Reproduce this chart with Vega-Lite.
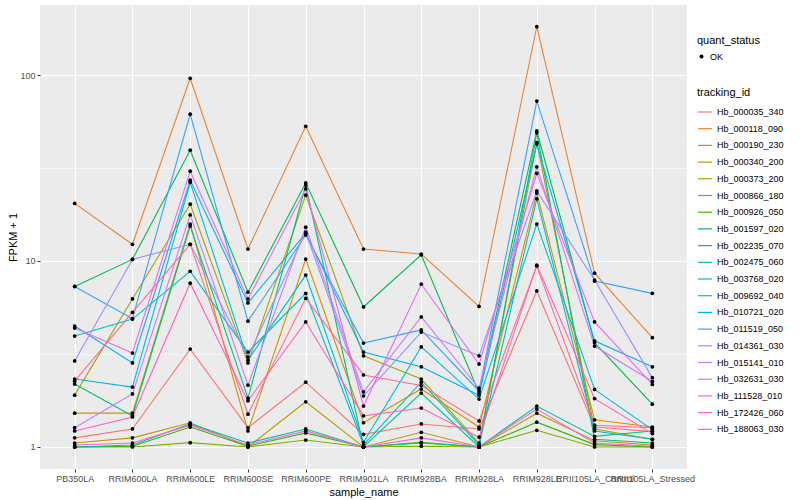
{
  "$schema": "https://vega.github.io/schema/vega-lite/v6.json",
  "width": 647,
  "height": 464,
  "autosize": "none",
  "padding": {"left": 40, "top": 5, "right": 113, "bottom": 31},
  "config": {
    "font": "Liberation Sans",
    "view": {"fill": "#EBEBEB", "stroke": null}
  },
  "datasets": {
    "expr": [
      {"sample_name":"PB350LA","tracking_id":"Hb_000035_340","fpkm":1.12,"quant_status":"OK"},
      {"sample_name":"RRIM600LA","tracking_id":"Hb_000035_340","fpkm":1.25,"quant_status":"OK"},
      {"sample_name":"RRIM600LE","tracking_id":"Hb_000035_340","fpkm":3.36,"quant_status":"OK"},
      {"sample_name":"RRIM600SE","tracking_id":"Hb_000035_340","fpkm":1.27,"quant_status":"OK"},
      {"sample_name":"RRIM600PE","tracking_id":"Hb_000035_340","fpkm":2.23,"quant_status":"OK"},
      {"sample_name":"RRIM901LA","tracking_id":"Hb_000035_340","fpkm":1.17,"quant_status":"OK"},
      {"sample_name":"RRIM928BA","tracking_id":"Hb_000035_340","fpkm":1.33,"quant_status":"OK"},
      {"sample_name":"RRIM928LA","tracking_id":"Hb_000035_340","fpkm":1.25,"quant_status":"OK"},
      {"sample_name":"RRIM928LE","tracking_id":"Hb_000035_340","fpkm":6.9,"quant_status":"OK"},
      {"sample_name":"RRII105LA_Control","tracking_id":"Hb_000035_340","fpkm":1.28,"quant_status":"OK"},
      {"sample_name":"RRII105LA_Stressed","tracking_id":"Hb_000035_340","fpkm":1.21,"quant_status":"OK"},

      {"sample_name":"PB350LA","tracking_id":"Hb_000118_090","fpkm":20.4,"quant_status":"OK"},
      {"sample_name":"RRIM600LA","tracking_id":"Hb_000118_090","fpkm":12.3,"quant_status":"OK"},
      {"sample_name":"RRIM600LE","tracking_id":"Hb_000118_090","fpkm":96,"quant_status":"OK"},
      {"sample_name":"RRIM600SE","tracking_id":"Hb_000118_090","fpkm":11.6,"quant_status":"OK"},
      {"sample_name":"RRIM600PE","tracking_id":"Hb_000118_090","fpkm":53,"quant_status":"OK"},
      {"sample_name":"RRIM901LA","tracking_id":"Hb_000118_090","fpkm":11.6,"quant_status":"OK"},
      {"sample_name":"RRIM928BA","tracking_id":"Hb_000118_090","fpkm":10.9,"quant_status":"OK"},
      {"sample_name":"RRIM928LA","tracking_id":"Hb_000118_090","fpkm":5.7,"quant_status":"OK"},
      {"sample_name":"RRIM928LE","tracking_id":"Hb_000118_090","fpkm":182,"quant_status":"OK"},
      {"sample_name":"RRII105LA_Control","tracking_id":"Hb_000118_090","fpkm":8.6,"quant_status":"OK"},
      {"sample_name":"RRII105LA_Stressed","tracking_id":"Hb_000118_090","fpkm":3.87,"quant_status":"OK"},

      {"sample_name":"PB350LA","tracking_id":"Hb_000190_230","fpkm":1.52,"quant_status":"OK"},
      {"sample_name":"RRIM600LA","tracking_id":"Hb_000190_230","fpkm":1.52,"quant_status":"OK"},
      {"sample_name":"RRIM600LE","tracking_id":"Hb_000190_230","fpkm":15.8,"quant_status":"OK"},
      {"sample_name":"RRIM600SE","tracking_id":"Hb_000190_230","fpkm":1.22,"quant_status":"OK"},
      {"sample_name":"RRIM600PE","tracking_id":"Hb_000190_230","fpkm":10.25,"quant_status":"OK"},
      {"sample_name":"RRIM901LA","tracking_id":"Hb_000190_230","fpkm":1.35,"quant_status":"OK"},
      {"sample_name":"RRIM928BA","tracking_id":"Hb_000190_230","fpkm":2.05,"quant_status":"OK"},
      {"sample_name":"RRIM928LA","tracking_id":"Hb_000190_230","fpkm":1.28,"quant_status":"OK"},
      {"sample_name":"RRIM928LE","tracking_id":"Hb_000190_230","fpkm":23.2,"quant_status":"OK"},
      {"sample_name":"RRII105LA_Control","tracking_id":"Hb_000190_230","fpkm":1.4,"quant_status":"OK"},
      {"sample_name":"RRII105LA_Stressed","tracking_id":"Hb_000190_230","fpkm":1.28,"quant_status":"OK"},

      {"sample_name":"PB350LA","tracking_id":"Hb_000340_200","fpkm":1.05,"quant_status":"OK"},
      {"sample_name":"RRIM600LA","tracking_id":"Hb_000340_200","fpkm":1.12,"quant_status":"OK"},
      {"sample_name":"RRIM600LE","tracking_id":"Hb_000340_200","fpkm":1.35,"quant_status":"OK"},
      {"sample_name":"RRIM600SE","tracking_id":"Hb_000340_200","fpkm":1.0,"quant_status":"OK"},
      {"sample_name":"RRIM600PE","tracking_id":"Hb_000340_200","fpkm":1.75,"quant_status":"OK"},
      {"sample_name":"RRIM901LA","tracking_id":"Hb_000340_200","fpkm":1.0,"quant_status":"OK"},
      {"sample_name":"RRIM928BA","tracking_id":"Hb_000340_200","fpkm":1.2,"quant_status":"OK"},
      {"sample_name":"RRIM928LA","tracking_id":"Hb_000340_200","fpkm":1.0,"quant_status":"OK"},
      {"sample_name":"RRIM928LE","tracking_id":"Hb_000340_200","fpkm":1.52,"quant_status":"OK"},
      {"sample_name":"RRII105LA_Control","tracking_id":"Hb_000340_200","fpkm":1.08,"quant_status":"OK"},
      {"sample_name":"RRII105LA_Stressed","tracking_id":"Hb_000340_200","fpkm":1.025,"quant_status":"OK"},

      {"sample_name":"PB350LA","tracking_id":"Hb_000373_200","fpkm":1.9,"quant_status":"OK"},
      {"sample_name":"RRIM600LA","tracking_id":"Hb_000373_200","fpkm":6.25,"quant_status":"OK"},
      {"sample_name":"RRIM600LE","tracking_id":"Hb_000373_200","fpkm":20.2,"quant_status":"OK"},
      {"sample_name":"RRIM600SE","tracking_id":"Hb_000373_200","fpkm":2.83,"quant_status":"OK"},
      {"sample_name":"RRIM600PE","tracking_id":"Hb_000373_200","fpkm":22.6,"quant_status":"OK"},
      {"sample_name":"RRIM901LA","tracking_id":"Hb_000373_200","fpkm":3.09,"quant_status":"OK"},
      {"sample_name":"RRIM928BA","tracking_id":"Hb_000373_200","fpkm":2.32,"quant_status":"OK"},
      {"sample_name":"RRIM928LA","tracking_id":"Hb_000373_200","fpkm":1.05,"quant_status":"OK"},
      {"sample_name":"RRIM928LE","tracking_id":"Hb_000373_200","fpkm":43.3,"quant_status":"OK"},
      {"sample_name":"RRII105LA_Control","tracking_id":"Hb_000373_200","fpkm":1.25,"quant_status":"OK"},
      {"sample_name":"RRII105LA_Stressed","tracking_id":"Hb_000373_200","fpkm":1.1,"quant_status":"OK"},

      {"sample_name":"PB350LA","tracking_id":"Hb_000866_180","fpkm":1.0,"quant_status":"OK"},
      {"sample_name":"RRIM600LA","tracking_id":"Hb_000866_180","fpkm":1.0,"quant_status":"OK"},
      {"sample_name":"RRIM600LE","tracking_id":"Hb_000866_180","fpkm":1.055,"quant_status":"OK"},
      {"sample_name":"RRIM600SE","tracking_id":"Hb_000866_180","fpkm":1.0,"quant_status":"OK"},
      {"sample_name":"RRIM600PE","tracking_id":"Hb_000866_180","fpkm":1.09,"quant_status":"OK"},
      {"sample_name":"RRIM901LA","tracking_id":"Hb_000866_180","fpkm":1.0,"quant_status":"OK"},
      {"sample_name":"RRIM928BA","tracking_id":"Hb_000866_180","fpkm":1.01,"quant_status":"OK"},
      {"sample_name":"RRIM928LA","tracking_id":"Hb_000866_180","fpkm":1.0,"quant_status":"OK"},
      {"sample_name":"RRIM928LE","tracking_id":"Hb_000866_180","fpkm":1.23,"quant_status":"OK"},
      {"sample_name":"RRII105LA_Control","tracking_id":"Hb_000866_180","fpkm":1.0,"quant_status":"OK"},
      {"sample_name":"RRII105LA_Stressed","tracking_id":"Hb_000866_180","fpkm":1.0,"quant_status":"OK"},

      {"sample_name":"PB350LA","tracking_id":"Hb_000926_050","fpkm":1.0,"quant_status":"OK"},
      {"sample_name":"RRIM600LA","tracking_id":"Hb_000926_050","fpkm":1.01,"quant_status":"OK"},
      {"sample_name":"RRIM600LE","tracking_id":"Hb_000926_050","fpkm":1.28,"quant_status":"OK"},
      {"sample_name":"RRIM600SE","tracking_id":"Hb_000926_050","fpkm":1.01,"quant_status":"OK"},
      {"sample_name":"RRIM600PE","tracking_id":"Hb_000926_050","fpkm":1.19,"quant_status":"OK"},
      {"sample_name":"RRIM901LA","tracking_id":"Hb_000926_050","fpkm":1.0,"quant_status":"OK"},
      {"sample_name":"RRIM928BA","tracking_id":"Hb_000926_050","fpkm":1.06,"quant_status":"OK"},
      {"sample_name":"RRIM928LA","tracking_id":"Hb_000926_050","fpkm":1.0,"quant_status":"OK"},
      {"sample_name":"RRIM928LE","tracking_id":"Hb_000926_050","fpkm":1.36,"quant_status":"OK"},
      {"sample_name":"RRII105LA_Control","tracking_id":"Hb_000926_050","fpkm":1.03,"quant_status":"OK"},
      {"sample_name":"RRII105LA_Stressed","tracking_id":"Hb_000926_050","fpkm":1.0,"quant_status":"OK"},

      {"sample_name":"PB350LA","tracking_id":"Hb_001597_020","fpkm":7.3,"quant_status":"OK"},
      {"sample_name":"RRIM600LA","tracking_id":"Hb_001597_020","fpkm":10.2,"quant_status":"OK"},
      {"sample_name":"RRIM600LE","tracking_id":"Hb_001597_020","fpkm":39.4,"quant_status":"OK"},
      {"sample_name":"RRIM600SE","tracking_id":"Hb_001597_020","fpkm":6.8,"quant_status":"OK"},
      {"sample_name":"RRIM600PE","tracking_id":"Hb_001597_020","fpkm":26.3,"quant_status":"OK"},
      {"sample_name":"RRIM901LA","tracking_id":"Hb_001597_020","fpkm":5.66,"quant_status":"OK"},
      {"sample_name":"RRIM928BA","tracking_id":"Hb_001597_020","fpkm":10.8,"quant_status":"OK"},
      {"sample_name":"RRIM928LA","tracking_id":"Hb_001597_020","fpkm":1.95,"quant_status":"OK"},
      {"sample_name":"RRIM928LE","tracking_id":"Hb_001597_020","fpkm":50.0,"quant_status":"OK"},
      {"sample_name":"RRII105LA_Control","tracking_id":"Hb_001597_020","fpkm":3.64,"quant_status":"OK"},
      {"sample_name":"RRII105LA_Stressed","tracking_id":"Hb_001597_020","fpkm":1.7,"quant_status":"OK"},

      {"sample_name":"PB350LA","tracking_id":"Hb_002235_070","fpkm":2.18,"quant_status":"OK"},
      {"sample_name":"RRIM600LA","tracking_id":"Hb_002235_070","fpkm":1.47,"quant_status":"OK"},
      {"sample_name":"RRIM600LE","tracking_id":"Hb_002235_070","fpkm":15.4,"quant_status":"OK"},
      {"sample_name":"RRIM600SE","tracking_id":"Hb_002235_070","fpkm":1.83,"quant_status":"OK"},
      {"sample_name":"RRIM600PE","tracking_id":"Hb_002235_070","fpkm":25.6,"quant_status":"OK"},
      {"sample_name":"RRIM901LA","tracking_id":"Hb_002235_070","fpkm":1.0,"quant_status":"OK"},
      {"sample_name":"RRIM928BA","tracking_id":"Hb_002235_070","fpkm":1.05,"quant_status":"OK"},
      {"sample_name":"RRIM928LA","tracking_id":"Hb_002235_070","fpkm":1.0,"quant_status":"OK"},
      {"sample_name":"RRIM928LE","tracking_id":"Hb_002235_070","fpkm":48.9,"quant_status":"OK"},
      {"sample_name":"RRII105LA_Control","tracking_id":"Hb_002235_070","fpkm":1.1,"quant_status":"OK"},
      {"sample_name":"RRII105LA_Stressed","tracking_id":"Hb_002235_070","fpkm":1.05,"quant_status":"OK"},

      {"sample_name":"PB350LA","tracking_id":"Hb_002475_060","fpkm":1.0,"quant_status":"OK"},
      {"sample_name":"RRIM600LA","tracking_id":"Hb_002475_060","fpkm":1.025,"quant_status":"OK"},
      {"sample_name":"RRIM600LE","tracking_id":"Hb_002475_060","fpkm":1.33,"quant_status":"OK"},
      {"sample_name":"RRIM600SE","tracking_id":"Hb_002475_060","fpkm":1.05,"quant_status":"OK"},
      {"sample_name":"RRIM600PE","tracking_id":"Hb_002475_060","fpkm":1.25,"quant_status":"OK"},
      {"sample_name":"RRIM901LA","tracking_id":"Hb_002475_060","fpkm":1.0,"quant_status":"OK"},
      {"sample_name":"RRIM928BA","tracking_id":"Hb_002475_060","fpkm":1.95,"quant_status":"OK"},
      {"sample_name":"RRIM928LA","tracking_id":"Hb_002475_060","fpkm":1.0,"quant_status":"OK"},
      {"sample_name":"RRIM928LE","tracking_id":"Hb_002475_060","fpkm":1.66,"quant_status":"OK"},
      {"sample_name":"RRII105LA_Control","tracking_id":"Hb_002475_060","fpkm":1.14,"quant_status":"OK"},
      {"sample_name":"RRII105LA_Stressed","tracking_id":"Hb_002475_060","fpkm":1.22,"quant_status":"OK"},

      {"sample_name":"PB350LA","tracking_id":"Hb_003768_020","fpkm":3.95,"quant_status":"OK"},
      {"sample_name":"RRIM600LA","tracking_id":"Hb_003768_020","fpkm":4.87,"quant_status":"OK"},
      {"sample_name":"RRIM600LE","tracking_id":"Hb_003768_020","fpkm":8.8,"quant_status":"OK"},
      {"sample_name":"RRIM600SE","tracking_id":"Hb_003768_020","fpkm":3.24,"quant_status":"OK"},
      {"sample_name":"RRIM600PE","tracking_id":"Hb_003768_020","fpkm":6.7,"quant_status":"OK"},
      {"sample_name":"RRIM901LA","tracking_id":"Hb_003768_020","fpkm":1.025,"quant_status":"OK"},
      {"sample_name":"RRIM928BA","tracking_id":"Hb_003768_020","fpkm":2.23,"quant_status":"OK"},
      {"sample_name":"RRIM928LA","tracking_id":"Hb_003768_020","fpkm":1.025,"quant_status":"OK"},
      {"sample_name":"RRIM928LE","tracking_id":"Hb_003768_020","fpkm":21.6,"quant_status":"OK"},
      {"sample_name":"RRII105LA_Control","tracking_id":"Hb_003768_020","fpkm":1.22,"quant_status":"OK"},
      {"sample_name":"RRII105LA_Stressed","tracking_id":"Hb_003768_020","fpkm":1.1,"quant_status":"OK"},

      {"sample_name":"PB350LA","tracking_id":"Hb_009692_040","fpkm":2.32,"quant_status":"OK"},
      {"sample_name":"RRIM600LA","tracking_id":"Hb_009692_040","fpkm":2.1,"quant_status":"OK"},
      {"sample_name":"RRIM600LE","tracking_id":"Hb_009692_040","fpkm":26.5,"quant_status":"OK"},
      {"sample_name":"RRIM600SE","tracking_id":"Hb_009692_040","fpkm":2.93,"quant_status":"OK"},
      {"sample_name":"RRIM600PE","tracking_id":"Hb_009692_040","fpkm":8.4,"quant_status":"OK"},
      {"sample_name":"RRIM901LA","tracking_id":"Hb_009692_040","fpkm":1.06,"quant_status":"OK"},
      {"sample_name":"RRIM928BA","tracking_id":"Hb_009692_040","fpkm":3.45,"quant_status":"OK"},
      {"sample_name":"RRIM928LA","tracking_id":"Hb_009692_040","fpkm":1.81,"quant_status":"OK"},
      {"sample_name":"RRIM928LE","tracking_id":"Hb_009692_040","fpkm":15.8,"quant_status":"OK"},
      {"sample_name":"RRII105LA_Control","tracking_id":"Hb_009692_040","fpkm":2.04,"quant_status":"OK"},
      {"sample_name":"RRII105LA_Stressed","tracking_id":"Hb_009692_040","fpkm":1.24,"quant_status":"OK"},

      {"sample_name":"PB350LA","tracking_id":"Hb_010721_020","fpkm":4.47,"quant_status":"OK"},
      {"sample_name":"RRIM600LA","tracking_id":"Hb_010721_020","fpkm":2.83,"quant_status":"OK"},
      {"sample_name":"RRIM600LE","tracking_id":"Hb_010721_020","fpkm":27.2,"quant_status":"OK"},
      {"sample_name":"RRIM600SE","tracking_id":"Hb_010721_020","fpkm":5.95,"quant_status":"OK"},
      {"sample_name":"RRIM600PE","tracking_id":"Hb_010721_020","fpkm":14.1,"quant_status":"OK"},
      {"sample_name":"RRIM901LA","tracking_id":"Hb_010721_020","fpkm":3.24,"quant_status":"OK"},
      {"sample_name":"RRIM928BA","tracking_id":"Hb_010721_020","fpkm":2.7,"quant_status":"OK"},
      {"sample_name":"RRIM928LA","tracking_id":"Hb_010721_020","fpkm":1.9,"quant_status":"OK"},
      {"sample_name":"RRIM928LE","tracking_id":"Hb_010721_020","fpkm":42.5,"quant_status":"OK"},
      {"sample_name":"RRII105LA_Control","tracking_id":"Hb_010721_020","fpkm":3.72,"quant_status":"OK"},
      {"sample_name":"RRII105LA_Stressed","tracking_id":"Hb_010721_020","fpkm":2.7,"quant_status":"OK"},

      {"sample_name":"PB350LA","tracking_id":"Hb_011519_050","fpkm":7.3,"quant_status":"OK"},
      {"sample_name":"RRIM600LA","tracking_id":"Hb_011519_050","fpkm":4.9,"quant_status":"OK"},
      {"sample_name":"RRIM600LE","tracking_id":"Hb_011519_050","fpkm":61.6,"quant_status":"OK"},
      {"sample_name":"RRIM600SE","tracking_id":"Hb_011519_050","fpkm":4.75,"quant_status":"OK"},
      {"sample_name":"RRIM600PE","tracking_id":"Hb_011519_050","fpkm":13.8,"quant_status":"OK"},
      {"sample_name":"RRIM901LA","tracking_id":"Hb_011519_050","fpkm":3.62,"quant_status":"OK"},
      {"sample_name":"RRIM928BA","tracking_id":"Hb_011519_050","fpkm":4.26,"quant_status":"OK"},
      {"sample_name":"RRIM928LA","tracking_id":"Hb_011519_050","fpkm":2.0,"quant_status":"OK"},
      {"sample_name":"RRIM928LE","tracking_id":"Hb_011519_050","fpkm":72.4,"quant_status":"OK"},
      {"sample_name":"RRII105LA_Control","tracking_id":"Hb_011519_050","fpkm":7.8,"quant_status":"OK"},
      {"sample_name":"RRII105LA_Stressed","tracking_id":"Hb_011519_050","fpkm":6.7,"quant_status":"OK"},

      {"sample_name":"PB350LA","tracking_id":"Hb_014361_030","fpkm":2.9,"quant_status":"OK"},
      {"sample_name":"RRIM600LA","tracking_id":"Hb_014361_030","fpkm":10.2,"quant_status":"OK"},
      {"sample_name":"RRIM600LE","tracking_id":"Hb_014361_030","fpkm":12.3,"quant_status":"OK"},
      {"sample_name":"RRIM600SE","tracking_id":"Hb_014361_030","fpkm":3.05,"quant_status":"OK"},
      {"sample_name":"RRIM600PE","tracking_id":"Hb_014361_030","fpkm":14.3,"quant_status":"OK"},
      {"sample_name":"RRIM901LA","tracking_id":"Hb_014361_030","fpkm":1.88,"quant_status":"OK"},
      {"sample_name":"RRIM928BA","tracking_id":"Hb_014361_030","fpkm":4.15,"quant_status":"OK"},
      {"sample_name":"RRIM928LA","tracking_id":"Hb_014361_030","fpkm":3.09,"quant_status":"OK"},
      {"sample_name":"RRIM928LE","tracking_id":"Hb_014361_030","fpkm":23.8,"quant_status":"OK"},
      {"sample_name":"RRII105LA_Control","tracking_id":"Hb_014361_030","fpkm":7.9,"quant_status":"OK"},
      {"sample_name":"RRII105LA_Stressed","tracking_id":"Hb_014361_030","fpkm":2.36,"quant_status":"OK"},

      {"sample_name":"PB350LA","tracking_id":"Hb_015141_010","fpkm":1.27,"quant_status":"OK"},
      {"sample_name":"RRIM600LA","tracking_id":"Hb_015141_010","fpkm":1.93,"quant_status":"OK"},
      {"sample_name":"RRIM600LE","tracking_id":"Hb_015141_010","fpkm":17.7,"quant_status":"OK"},
      {"sample_name":"RRIM600SE","tracking_id":"Hb_015141_010","fpkm":2.15,"quant_status":"OK"},
      {"sample_name":"RRIM600PE","tracking_id":"Hb_015141_010","fpkm":15.2,"quant_status":"OK"},
      {"sample_name":"RRIM901LA","tracking_id":"Hb_015141_010","fpkm":1.98,"quant_status":"OK"},
      {"sample_name":"RRIM928BA","tracking_id":"Hb_015141_010","fpkm":5.0,"quant_status":"OK"},
      {"sample_name":"RRIM928LA","tracking_id":"Hb_015141_010","fpkm":2.07,"quant_status":"OK"},
      {"sample_name":"RRIM928LE","tracking_id":"Hb_015141_010","fpkm":32.1,"quant_status":"OK"},
      {"sample_name":"RRII105LA_Control","tracking_id":"Hb_015141_010","fpkm":3.49,"quant_status":"OK"},
      {"sample_name":"RRII105LA_Stressed","tracking_id":"Hb_015141_010","fpkm":2.25,"quant_status":"OK"},

      {"sample_name":"PB350LA","tracking_id":"Hb_032631_030","fpkm":4.36,"quant_status":"OK"},
      {"sample_name":"RRIM600LA","tracking_id":"Hb_032631_030","fpkm":3.2,"quant_status":"OK"},
      {"sample_name":"RRIM600LE","tracking_id":"Hb_032631_030","fpkm":30.4,"quant_status":"OK"},
      {"sample_name":"RRIM600SE","tracking_id":"Hb_032631_030","fpkm":6.25,"quant_status":"OK"},
      {"sample_name":"RRIM600PE","tracking_id":"Hb_032631_030","fpkm":24.4,"quant_status":"OK"},
      {"sample_name":"RRIM901LA","tracking_id":"Hb_032631_030","fpkm":1.66,"quant_status":"OK"},
      {"sample_name":"RRIM928BA","tracking_id":"Hb_032631_030","fpkm":7.5,"quant_status":"OK"},
      {"sample_name":"RRIM928LA","tracking_id":"Hb_032631_030","fpkm":2.79,"quant_status":"OK"},
      {"sample_name":"RRIM928LE","tracking_id":"Hb_032631_030","fpkm":29.6,"quant_status":"OK"},
      {"sample_name":"RRII105LA_Control","tracking_id":"Hb_032631_030","fpkm":4.7,"quant_status":"OK"},
      {"sample_name":"RRII105LA_Stressed","tracking_id":"Hb_032631_030","fpkm":2.17,"quant_status":"OK"},

      {"sample_name":"PB350LA","tracking_id":"Hb_111528_010","fpkm":1.025,"quant_status":"OK"},
      {"sample_name":"RRIM600LA","tracking_id":"Hb_111528_010","fpkm":1.05,"quant_status":"OK"},
      {"sample_name":"RRIM600LE","tracking_id":"Hb_111528_010","fpkm":1.31,"quant_status":"OK"},
      {"sample_name":"RRIM600SE","tracking_id":"Hb_111528_010","fpkm":1.025,"quant_status":"OK"},
      {"sample_name":"RRIM600PE","tracking_id":"Hb_111528_010","fpkm":1.22,"quant_status":"OK"},
      {"sample_name":"RRIM901LA","tracking_id":"Hb_111528_010","fpkm":1.0,"quant_status":"OK"},
      {"sample_name":"RRIM928BA","tracking_id":"Hb_111528_010","fpkm":1.12,"quant_status":"OK"},
      {"sample_name":"RRIM928LA","tracking_id":"Hb_111528_010","fpkm":1.0,"quant_status":"OK"},
      {"sample_name":"RRIM928LE","tracking_id":"Hb_111528_010","fpkm":1.6,"quant_status":"OK"},
      {"sample_name":"RRII105LA_Control","tracking_id":"Hb_111528_010","fpkm":1.05,"quant_status":"OK"},
      {"sample_name":"RRII105LA_Stressed","tracking_id":"Hb_111528_010","fpkm":1.01,"quant_status":"OK"},

      {"sample_name":"PB350LA","tracking_id":"Hb_172426_060","fpkm":1.22,"quant_status":"OK"},
      {"sample_name":"RRIM600LA","tracking_id":"Hb_172426_060","fpkm":1.45,"quant_status":"OK"},
      {"sample_name":"RRIM600LE","tracking_id":"Hb_172426_060","fpkm":7.6,"quant_status":"OK"},
      {"sample_name":"RRIM600SE","tracking_id":"Hb_172426_060","fpkm":1.77,"quant_status":"OK"},
      {"sample_name":"RRIM600PE","tracking_id":"Hb_172426_060","fpkm":4.7,"quant_status":"OK"},
      {"sample_name":"RRIM901LA","tracking_id":"Hb_172426_060","fpkm":1.47,"quant_status":"OK"},
      {"sample_name":"RRIM928BA","tracking_id":"Hb_172426_060","fpkm":1.62,"quant_status":"OK"},
      {"sample_name":"RRIM928LA","tracking_id":"Hb_172426_060","fpkm":1.13,"quant_status":"OK"},
      {"sample_name":"RRIM928LE","tracking_id":"Hb_172426_060","fpkm":9.5,"quant_status":"OK"},
      {"sample_name":"RRII105LA_Control","tracking_id":"Hb_172426_060","fpkm":1.82,"quant_status":"OK"},
      {"sample_name":"RRII105LA_Stressed","tracking_id":"Hb_172426_060","fpkm":1.18,"quant_status":"OK"},

      {"sample_name":"PB350LA","tracking_id":"Hb_188063_030","fpkm":2.26,"quant_status":"OK"},
      {"sample_name":"RRIM600LA","tracking_id":"Hb_188063_030","fpkm":5.3,"quant_status":"OK"},
      {"sample_name":"RRIM600LE","tracking_id":"Hb_188063_030","fpkm":12.3,"quant_status":"OK"},
      {"sample_name":"RRIM600SE","tracking_id":"Hb_188063_030","fpkm":1.5,"quant_status":"OK"},
      {"sample_name":"RRIM600PE","tracking_id":"Hb_188063_030","fpkm":6.3,"quant_status":"OK"},
      {"sample_name":"RRIM901LA","tracking_id":"Hb_188063_030","fpkm":2.44,"quant_status":"OK"},
      {"sample_name":"RRIM928BA","tracking_id":"Hb_188063_030","fpkm":2.14,"quant_status":"OK"},
      {"sample_name":"RRIM928LA","tracking_id":"Hb_188063_030","fpkm":1.38,"quant_status":"OK"},
      {"sample_name":"RRIM928LE","tracking_id":"Hb_188063_030","fpkm":9.4,"quant_status":"OK"},
      {"sample_name":"RRII105LA_Control","tracking_id":"Hb_188063_030","fpkm":1.31,"quant_status":"OK"},
      {"sample_name":"RRII105LA_Stressed","tracking_id":"Hb_188063_030","fpkm":1.27,"quant_status":"OK"}
    ]
  },
  "data": {"name": "expr"},
  "encoding": {
    "x": {
      "field": "sample_name",
      "type": "nominal",
      "sort": ["PB350LA","RRIM600LA","RRIM600LE","RRIM600SE","RRIM600PE","RRIM901LA","RRIM928BA","RRIM928LA","RRIM928LE","RRII105LA_Control","RRII105LA_Stressed"],
      "scale": {"type": "point", "padding": 0.6},
      "axis": {
        "title": "sample_name",
        "labelAngle": 0,
        "labelOverlap": false,
        "labelBound": false,
        "labelFontSize": 9,
        "labelColor": "#4D4D4D",
        "labelPadding": 2,
        "tickColor": "#333333",
        "tickSize": 3,
        "domain": false,
        "grid": true,
        "gridColor": "#FFFFFF",
        "gridWidth": 1.1,
        "titleFontSize": 11,
        "titleFontWeight": "normal",
        "titleColor": "#000000",
        "titlePadding": 3
      }
    },
    "y": {
      "field": "fpkm",
      "type": "quantitative",
      "scale": {"type": "log", "domain": [0.7615, 237.9], "nice": false, "zero": false},
      "axis": {
        "title": "FPKM + 1",
        "values": [1, 3.1623, 10, 31.623, 100],
        "labelExpr": "(datum.value == 1 || datum.value == 10 || datum.value == 100) ? format(datum.value, 'd') : ''",
        "labelFontSize": 9,
        "labelColor": "#4D4D4D",
        "labelPadding": 2,
        "tickColor": "#333333",
        "tickSize": 3,
        "tickOpacity": {"condition": {"test": "datum.value == 1 || datum.value == 10 || datum.value == 100", "value": 1}, "value": 0},
        "domain": false,
        "grid": true,
        "gridColor": "#FFFFFF",
        "gridWidth": {"condition": {"test": "datum.value == 1 || datum.value == 10 || datum.value == 100", "value": 1.1}, "value": 0.55},
        "titleFontSize": 11,
        "titleFontWeight": "normal",
        "titleColor": "#000000",
        "titlePadding": 1
      }
    }
  },
  "layer": [
    {
      "mark": {"type": "line", "strokeWidth": 1.1, "clip": true},
      "encoding": {
        "color": {
          "field": "tracking_id",
          "type": "nominal",
          "scale": {
            "domain": ["Hb_000035_340","Hb_000118_090","Hb_000190_230","Hb_000340_200","Hb_000373_200","Hb_000866_180","Hb_000926_050","Hb_001597_020","Hb_002235_070","Hb_002475_060","Hb_003768_020","Hb_009692_040","Hb_010721_020","Hb_011519_050","Hb_014361_030","Hb_015141_010","Hb_032631_030","Hb_111528_010","Hb_172426_060","Hb_188063_030"],
            "range": ["#F8766D","#EA8331","#D89000","#C09B00","#A3A500","#7CAE00","#39B600","#00BB4E","#00BF7D","#00C1A3","#00BFC4","#00BAE0","#00B0F6","#35A2FF","#9590FF","#C77CFF","#E76BF3","#FA62DB","#FF62BC","#FF6C91"]
          },
          "legend": {
            "title": "tracking_id",
            "orient": "none",
            "legendX": 657,
            "legendY": 82,
            "symbolType": "stroke",
            "symbolStrokeWidth": 1.2,
            "symbolSize": 200,
            "rowPadding": 3.7,
            "labelFontSize": 9,
            "labelColor": "#000000",
            "titleFontSize": 11,
            "titleFontWeight": "normal",
            "titleColor": "#000000",
            "titlePadding": 6
          }
        }
      }
    },
    {
      "mark": {"type": "point", "filled": true, "color": "#000000", "opacity": 1, "size": 14},
      "encoding": {
        "shape": {
          "field": "quant_status",
          "type": "nominal",
          "scale": {"range": ["circle"]},
          "legend": {
            "title": "quant_status",
            "orient": "none",
            "legendX": 657,
            "legendY": 30,
            "symbolFillColor": "#000000",
            "symbolStrokeColor": "#000000",
            "symbolSize": 16,
            "labelFontSize": 9,
            "labelColor": "#000000",
            "titleFontSize": 11,
            "titleFontWeight": "normal",
            "titleColor": "#000000",
            "titlePadding": 6
          }
        }
      }
    }
  ]
}
